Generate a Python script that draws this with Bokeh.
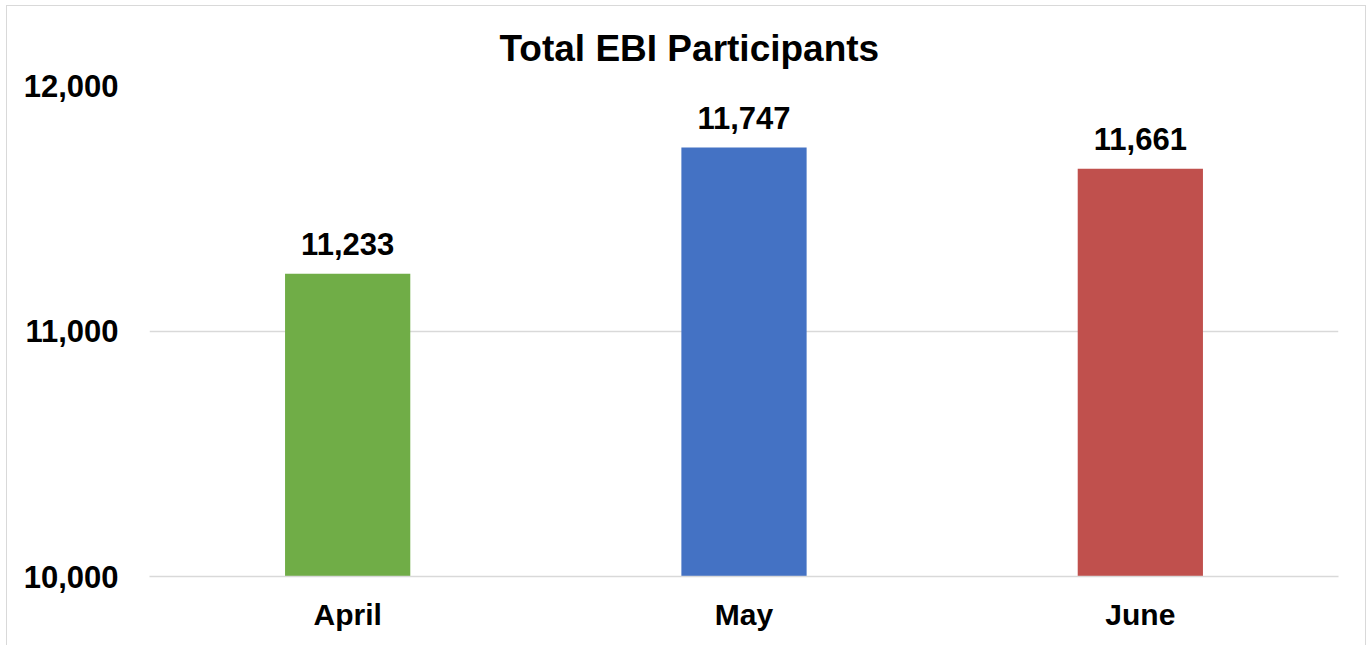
from bokeh.plotting import figure
from bokeh.models import ColumnDataSource, LabelSet, FixedTicker, NumeralTickFormatter, Range1d
from bokeh.core.properties import value
from bokeh.embed import file_html
from bokeh.resources import INLINE

months = ["April", "May", "June"]
participants = [11233, 11747, 11661]
colors = ["#70AD47", "#4472C4", "#C0504D"]
labels = ["11,233", "11,747", "11,661"]
y_ticks = [10000, 11000, 12000]

FONT = "Liberation Sans"

src = ColumnDataSource(dict(month=months, value=participants, color=colors, label=labels,
                            base=[y_ticks[0]] * len(months)))

p = figure(x_range=months, y_range=Range1d(y_ticks[0], y_ticks[-1]),
           width=1360, height=640, output_backend="svg", toolbar_location=None,
           min_border_left=142, min_border_right=29, min_border_top=79, min_border_bottom=70)

p.title.text = "Total EBI Participants"
p.title.text_font = FONT
p.title.text_font_size = "37px"
p.title.text_font_style = "bold"
p.title.align = "left"
p.title.offset = 350
p.title.standoff = 34
p.title.text_color = "#000000"

p.vbar(x="month", top="value", bottom="base", width=0.316, color="color", source=src, line_color=None)

lbl = LabelSet(x="month", y="value", text="label", source=src, text_align="center",
               text_baseline="alphabetic", y_offset=19, text_font=value(FONT),
               text_font_size="31px", text_font_style="bold", text_color="#000000")
p.add_layout(lbl)

p.x_range.range_padding = 0
p.yaxis.ticker = FixedTicker(ticks=y_ticks)
p.yaxis.formatter = NumeralTickFormatter(format="0,0")
for ax in (p.xaxis[0], p.yaxis[0]):
    ax.major_label_text_font = FONT
    ax.major_label_text_font_style = "bold"
    ax.major_label_text_color = "#000000"
    ax.major_tick_line_color = None
    ax.minor_tick_line_color = None
    ax.major_tick_out = 0
    ax.major_tick_in = 0
    ax.minor_tick_out = 0
    ax.minor_tick_in = 0
p.xaxis.major_label_text_font_size = "30px"
p.yaxis.major_label_text_font_size = "31px"
p.yaxis.axis_line_color = None
p.yaxis.major_label_standoff = 31
p.xaxis.axis_line_color = "#d9d9d9"
p.xaxis.axis_line_width = 1.5
p.xaxis.major_label_standoff = 21

p.xgrid.grid_line_color = None
p.ygrid.grid_line_color = "#d9d9d9"
p.ygrid.grid_line_width = 1.5
p.outline_line_color = None
p.styles = {"border": "1.5px solid #d9d9d9", "border-bottom": "none", "box-sizing": "border-box",
            "margin-left": "6px", "margin-top": "5px"}

open("out.html", "w").write(file_html(p, INLINE))
